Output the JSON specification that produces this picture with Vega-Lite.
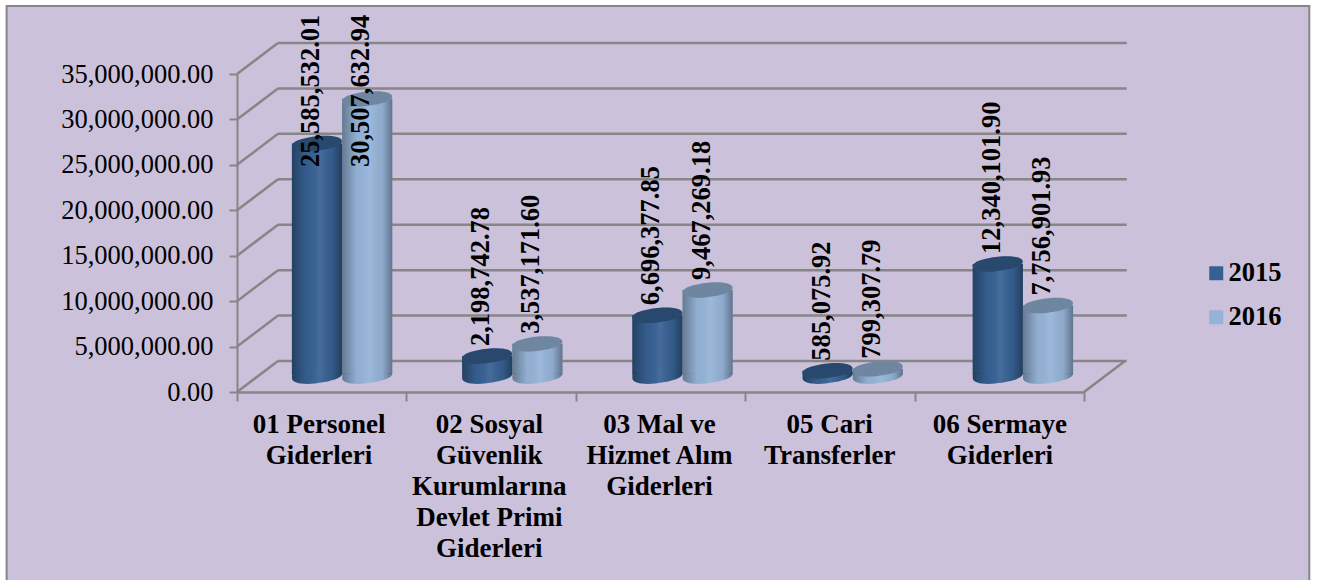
{
"$schema":"https://vega.github.io/schema/vega-lite/v6.json",
"width":847,"height":318,
"autosize":{"type":"none"},
"padding":{"left":237,"top":74,"right":243,"bottom":188},
"background":"#ffffff",
"datasets":{
"amounts":[
{"category":"01 Personel Giderleri","year":"2015","amount":25585532.01},
{"category":"01 Personel Giderleri","year":"2016","amount":30507632.94},
{"category":"02 Sosyal Güvenlik Kurumlarına Devlet Primi Giderleri","year":"2015","amount":2198742.78},
{"category":"02 Sosyal Güvenlik Kurumlarına Devlet Primi Giderleri","year":"2016","amount":3537171.60},
{"category":"03 Mal ve Hizmet Alım Giderleri","year":"2015","amount":6696377.85},
{"category":"03 Mal ve Hizmet Alım Giderleri","year":"2016","amount":9467269.18},
{"category":"05 Cari Transferler","year":"2015","amount":585075.92},
{"category":"05 Cari Transferler","year":"2016","amount":799307.79},
{"category":"06 Sermaye Giderleri","year":"2015","amount":12340101.90},
{"category":"06 Sermaye Giderleri","year":"2016","amount":7756901.93}
],
"grid":[{"v":0},{"v":5000000},{"v":10000000},{"v":15000000},{"v":20000000},{"v":25000000},{"v":30000000},{"v":35000000}]
},
"data":{"name":"amounts"},
"resolve":{"scale":{"x":"independent"},"axis":{"x":"independent"}},
"layer":[
{"layer":[
{"data":{"values":[{"frame":"chart area"}]},
 "mark":{"type":"rect","fill":"#ccc1da","stroke":"#868686","strokeWidth":2},
 "encoding":{
  "x":{"datum":-1.36,"type":"quantitative","scale":{"domain":[0,5],"nice":false,"zero":false},
   "axis":{"orient":"bottom","values":[0,1,2,3,4,5],"labels":false,"title":null,"grid":false,"domainColor":"#868686","domainWidth":2.5,"tickColor":"#868686","tickWidth":2,"tickSize":9,"zindex":1}},
  "x2":{"datum":6.33},
  "y":{"datum":42480000,"type":"quantitative","scale":{"domain":[0,35000000],"nice":false,"zero":false},
   "axis":{"values":[0,5000000,10000000,15000000,20000000,25000000,30000000,35000000],"format":",.2f","title":null,"grid":false,"domainColor":"#868686","domainWidth":2,"tickColor":"#868686","tickWidth":2,"tickSize":8,"labelFont":"Liberation Serif","labelFontSize":26.5,"labelColor":"#000000","labelPadding":16,"zindex":1}},
  "y2":{"datum":-20900000}
 }},
{"data":{"name":"grid"},
 "mark":{"type":"rule","color":"#868686","strokeWidth":2.5,"xOffset":41,"x2Offset":41,"yOffset":-31},
 "encoding":{"x":{"datum":0,"type":"quantitative"},"x2":{"datum":5.01},"y":{"field":"v","type":"quantitative"}}},
{"data":{"name":"grid"},
 "mark":{"type":"rule","color":"#868686","strokeWidth":2.5,"x2Offset":41,"y2Offset":-31},
 "encoding":{"x":{"datum":0,"type":"quantitative"},"x2":{"datum":0},"y":{"field":"v","type":"quantitative"},"y2":{"field":"v"}}},
{"data":{"name":"grid"},
 "transform":[{"filter":"datum.v === 0"}],
 "mark":{"type":"rule","color":"#868686","strokeWidth":2.5,"x2Offset":41,"y2Offset":-31},
 "encoding":{"x":{"datum":5,"type":"quantitative"},"x2":{"datum":5},"y":{"field":"v","type":"quantitative"},"y2":{"field":"v"}}}
]},
{"encoding":{
  "x":{"field":"category","type":"nominal","sort":null,"scale":{"paddingInner":0.41,"paddingOuter":0.205,"range":[20,871]},
   "axis":{"orient":"bottom","title":null,"ticks":false,"domain":false,"labelAngle":0,"labelFont":"Liberation Serif","labelFontWeight":"bold","labelFontSize":27,"labelColor":"#000000","labelLimit":300,"labelPadding":19,"labelBaseline":"top","labelLineHeight":31,"labelOffset":-23,"zindex":1,
    "labelExpr":"{'01 Personel Giderleri':['01 Personel','Giderleri'],'02 Sosyal Güvenlik Kurumlarına Devlet Primi Giderleri':['02 Sosyal','Güvenlik','Kurumlarına','Devlet Primi','Giderleri'],'03 Mal ve Hizmet Alım Giderleri':['03 Mal ve','Hizmet Alım','Giderleri'],'05 Cari Transferler':['05 Cari','Transferler'],'06 Sermaye Giderleri':['06 Sermaye','Giderleri']}[datum.label]"}},
  "xOffset":{"field":"year","type":"nominal","scale":{"paddingInner":0,"paddingOuter":0}},
  "color":{"field":"year","type":"nominal","scale":{"domain":["2015","2016"],"range":["#366092","#95b3d7"]},
   "legend":{"title":null,"orient":"none","legendX":966,"legendY":186,"symbolType":"square","symbolSize":196,"symbolStrokeWidth":0,"symbolOpacity":1,"labelFont":"Liberation Serif","labelFontWeight":"bold","labelFontSize":26.5,"labelColor":"#000000","labelOffset":-1,"rowPadding":17}}
 },
 "layer":[
 {"mark":{"type":"point","shape":"M-1,-0.09 L-1,0.09 C-1,0.3 -0.5,0.35 -0.1,0.3 C0.4,0.24 1,0.12 1,-0.09 Z","size":2500,"filled":true,"opacity":1,"strokeWidth":0,"yOffset":-16},
  "encoding":{"y":{"datum":0,"type":"quantitative"}}},
 {"mark":{"type":"bar","yOffset":-16,"y2Offset":-18},
  "encoding":{"y":{"field":"amount","type":"quantitative"},"y2":{"datum":0}}},
 {"mark":{"type":"bar","yOffset":-16,"y2Offset":-18,"fill":{"gradient":"linear","x1":0,"x2":1,"y1":0,"y2":0,"stops":[{"offset":0,"color":"rgba(0,0,0,0.32)"},{"offset":0.3,"color":"rgba(0,0,0,0.02)"},{"offset":0.55,"color":"rgba(255,255,255,0.08)"},{"offset":0.8,"color":"rgba(0,0,0,0.05)"},{"offset":1,"color":"rgba(0,0,0,0.35)"}]}},
  "encoding":{"color":{"value":null},"y":{"field":"amount","type":"quantitative"},"y2":{"datum":0}}},
 {"mark":{"type":"point","shape":"M-1,-0.09 L-1,0.09 C-1,0.3 -0.5,0.35 -0.1,0.3 C0.4,0.24 1,0.12 1,-0.09 Z","size":2500,"filled":true,"opacity":1,"strokeWidth":0,"yOffset":-16,"fill":{"gradient":"linear","x1":0,"x2":1,"y1":0,"y2":0,"stops":[{"offset":0,"color":"rgba(0,0,0,0.32)"},{"offset":0.3,"color":"rgba(0,0,0,0.02)"},{"offset":0.55,"color":"rgba(255,255,255,0.08)"},{"offset":0.8,"color":"rgba(0,0,0,0.05)"},{"offset":1,"color":"rgba(0,0,0,0.35)"}]}},
  "encoding":{"color":{"value":null},"y":{"datum":0,"type":"quantitative"}}},
 {"mark":{"type":"point","shape":"M-1,0.09 C-1,-0.12 -0.4,-0.26 0.1,-0.3 C0.55,-0.33 1,-0.27 1,-0.09 C1,0.12 0.4,0.24 -0.1,0.3 C-0.5,0.35 -1,0.3 -1,0.09 Z","size":2500,"filled":true,"opacity":1,"strokeWidth":0,"yOffset":-16},
  "encoding":{"y":{"field":"amount","type":"quantitative"}}},
 {"mark":{"type":"point","shape":"M-1,0.09 C-1,-0.12 -0.4,-0.26 0.1,-0.3 C0.55,-0.33 1,-0.27 1,-0.09 C1,0.12 0.4,0.24 -0.1,0.3 C-0.5,0.35 -1,0.3 -1,0.09 Z","size":2500,"filled":true,"opacity":0.25,"fill":"#000000","strokeWidth":0,"yOffset":-16},
  "encoding":{"color":{"value":null},"y":{"field":"amount","type":"quantitative"}}},
 {"transform":[{"calculate":"min(datum.amount, 21900000)","as":"labelAt"}],
  "mark":{"type":"text","angle":270,"align":"left","baseline":"middle","font":"Liberation Serif","fontWeight":"bold","fontSize":26.5,"color":"#000000","dy":-6,"yOffset":-26},
  "encoding":{"color":{"value":"#000000"},"y":{"field":"labelAt","type":"quantitative"},"text":{"field":"amount","type":"quantitative","format":",.2f"}}}
 ]}
]
}
